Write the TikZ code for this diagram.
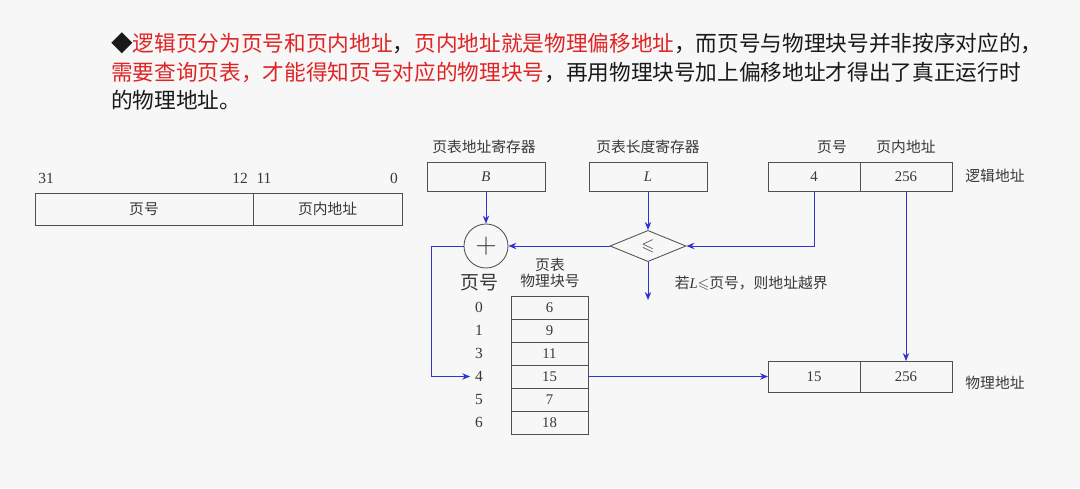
\documentclass[tikz,border=0pt]{standalone}
\usepackage{amssymb}
\usepackage{fontspec}
\setmainfont{Liberation Serif}
\newfontfamily\cjk{Noto Sans CJK SC}
\usetikzlibrary{arrows.meta, shapes.geometric, positioning}
\definecolor{pagebg}{HTML}{F7F7F7}
\definecolor{linkblue}{HTML}{3232D2}
\definecolor{boxgray}{HTML}{505050}
\definecolor{txtgray}{HTML}{383838}
\definecolor{notered}{HTML}{E02424}

\tikzset{
  regbox/.style={rectangle, draw=boxgray, semithick, outer sep=0pt, inner sep=0pt, text=txtgray,
    font=\fontsize{10.5}{12}\selectfont},
  cell/.style={regbox, minimum width=1.925cm, minimum height=0.575cm},
  lbl/.style={text=txtgray, font=\cjk\fontsize{10.5}{12}\selectfont},
  num/.style={text=txtgray, font=\fontsize{11}{12}\selectfont},
  headline/.style={anchor=west, inner sep=0pt, text=black!90, font=\cjk\fontsize{15.4}{19}\selectfont},
  link/.style={-{Stealth[length=2mm, width=1.6mm]}, linkblue, semithick},
}

\begin{document}
\begin{tikzpicture}[x=0.025cm, y=-0.025cm]
  \fill[pagebg] (0,0) rectangle (1080,488);
  \useasboundingbox (0,0) rectangle (1080,488);

  % --- Heading ---
  \node[headline] (head1) at (111,43) {◆\textcolor{notered}{逻辑页分为页号和页内地址}，\textcolor{notered}{页内地址就是物理偏移地址}，而页号与物理块号并非按序对应的，};
  \node[headline] (head2) at (111,72) {\textcolor{notered}{需要查询页表，才能得知页号对应的物理块号}，再用物理块号加上偏移地址才得出了真正运行时};
  \node[headline] (head3) at (111,100) {的物理地址。};

  % --- Address format (left) ---
  \node[regbox, minimum width=5.45cm, minimum height=0.8cm, font=\cjk\fontsize{10.5}{12}\selectfont] (pgfield) at (144,209) {页号};
  \node[regbox, minimum width=3.725cm, minimum height=0.8cm, font=\cjk\fontsize{10.5}{12}\selectfont, right=0pt of pgfield] (offfield) {页内地址};
  \node[num] (bit31) at (46,178) {31};
  \node[num] (bit12) at (240,178) {12};
  \node[num] (bit11) at (264,178) {11};
  \node[num] (bit0)  at (394,178) {0};

  % --- Registers ---
  \node[regbox, minimum width=2.95cm, minimum height=0.725cm] (regB) at (486,176.5) {\textit{B}};
  \node[regbox, minimum width=2.95cm, minimum height=0.725cm] (regL) at (648,176.5) {\textit{L}};
  \node[lbl] (regBlbl) at (484,147) {页表地址寄存器};
  \node[lbl] (regLlbl) at (648,147) {页表长度寄存器};

  % --- Logical address ---
  \node[regbox, minimum width=2.3cm, minimum height=0.725cm] (la1) at (814,176.5) {4};
  \node[regbox, minimum width=2.3cm, minimum height=0.725cm, right=0pt of la1] (la2) {256};
  \node[lbl] (la1lbl) at (832,147) {页号};
  \node[lbl] (la2lbl) at (906,147) {页内地址};
  \node[lbl] (lalbl) at (995,176) {逻辑地址};

  % --- Adder and compare ---
  \node[circle, draw=boxgray, semithick, minimum size=1.1cm, inner sep=0pt, text=txtgray] (adder) at (486,246) {\fontsize{20}{20}\selectfont$+$};
  \node[diamond, draw=boxgray, semithick, minimum width=1.9cm, minimum height=0.78cm, inner sep=0pt, aspect=2.4, text=txtgray] (cmp) at (648,246) {\large$\leqslant$};
  \coordinate (bound) at (648,300);
  \node[lbl, anchor=west] (boundlbl) at (670,283) {若\textrm{\textit{L}}$\leqslant$页号，则地址越界};
  \node[lbl, font=\cjk\fontsize{13.5}{15}\selectfont] (pglbl) at (479,283) {页号};
  \node[lbl, align=center] (ptlbl) at (550,273) {页表\\[-1pt]物理块号};

  % --- Page table ---
  \foreach \blk/\pg [count=\i from 0] in {6/0, 9/1, 11/3, 15/4, 7/5, 18/6} {
    \node[cell] (blk\pg) at (549.5,307.5+23*\i) {\blk};
    \node[num] (pg\pg) at (479,307.5+23*\i) {\pg};
  }

  % --- Physical address ---
  \node[regbox, minimum width=2.3cm, minimum height=0.775cm] (pa1) at (814,376.5) {15};
  \node[regbox, minimum width=2.3cm, minimum height=0.775cm, right=0pt of pa1] (pa2) {256};
  \node[lbl] (palbl) at (995,383) {物理地址};

  % --- Connectors ---
  \draw[link] (regB) -- (adder);
  \draw[link] (regL) -- (cmp);
  \draw[link] (la1.south) |- (cmp.east);
  \draw[link] (cmp.west) -- (adder.east);
  \draw[link] (cmp.south) -- (bound);
  \draw[link] (adder.west) -- ++(-32,0) |- (pg4.west);
  \draw[link] (blk4.east) -- (pa1.west);
  \draw[link] (la2.south) -- (pa2.north);
\end{tikzpicture}
\end{document}
